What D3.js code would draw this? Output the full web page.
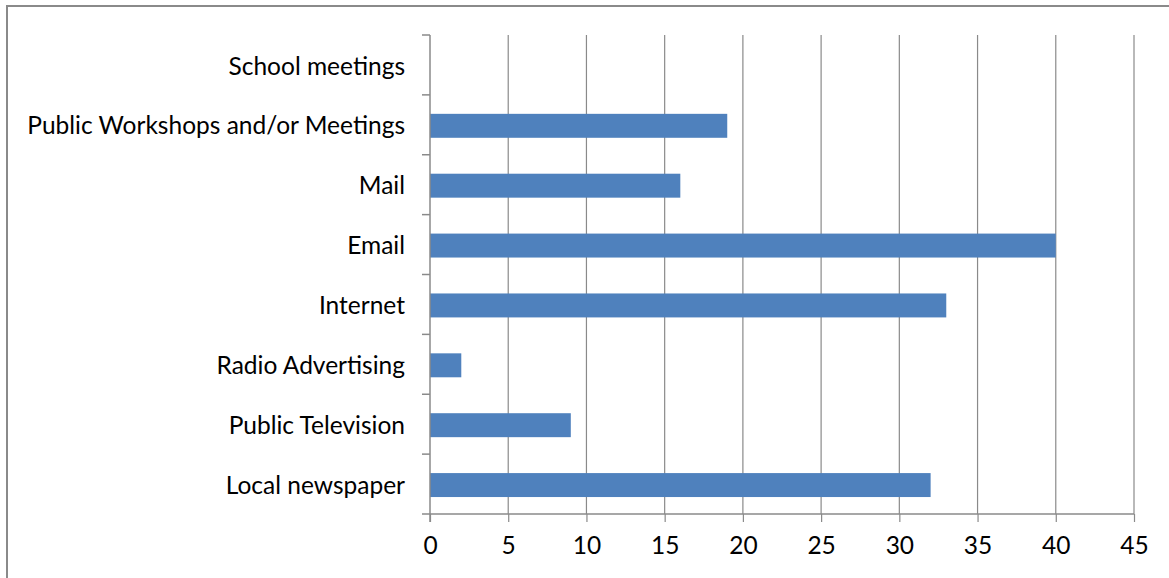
<!DOCTYPE html>
<html><head><meta charset="utf-8">
<script src="https://cdn.jsdelivr.net/npm/d3@7"></script>
<style>html,body{margin:0;padding:0;background:#fff;overflow:hidden}</style>
</head><body>
<svg id="c" width="1169" height="578"></svg>
<script>
const categories = ["School meetings","Public Workshops and/or Meetings","Mail","Email","Internet","Radio Advertising","Public Television","Local newspaper"];
const values = [0,19,16,40,33,2,9,32];
const xTicks = [0,5,10,15,20,25,30,35,40,45];

const svg = d3.select("#c");
const m = {left:430, right:1134, top:35, bottom:514};
const font = "Lato, 'Open Sans', sans-serif";
const fs = 24.5;
const grid = "#8a8a8a";

// chart frame
svg.append("rect").attr("x",7).attr("y",6).attr("width",1180).attr("height",600)
  .attr("fill","none").attr("stroke","#8a8a8a").attr("stroke-width",2);

const x = d3.scaleLinear().domain([0,45]).range([m.left,m.right]);
const y = d3.scaleBand().domain(categories).range([m.top,m.bottom]).paddingInner(0.6).paddingOuter(0.3);
const yb = d3.scaleBand().domain(categories).range([m.top,m.bottom]);

// gridlines
svg.append("g").selectAll("line").data(xTicks.slice(1)).join("line")
  .attr("x1",d=>x(d)).attr("x2",d=>x(d)).attr("y1",m.top).attr("y2",m.bottom)
  .attr("stroke",grid).attr("stroke-width",1.2);

// bars
svg.append("g").selectAll("rect").data(categories).join("rect")
  .attr("x",x(0)).attr("y",d=>y(d)+1).attr("height",y.bandwidth())
  .attr("width",(d,i)=>x(values[i])-x(0)).attr("fill","#4f81bd");

// x axis
const xa = svg.append("g").attr("transform",`translate(0,${m.bottom})`)
  .call(d3.axisBottom(x).tickValues(xTicks).tickSize(8).tickPadding(15).tickSizeOuter(0));
xa.select(".domain").attr("stroke",grid).attr("stroke-width",1.5).attr("d",`M${m.left-8},0H${m.right}`);
xa.selectAll(".tick line").attr("stroke",grid).attr("stroke-width",1.2);
xa.selectAll("text").attr("font-family",font).attr("font-size",fs).attr("fill","#000");

// y axis
const ya = svg.append("g").attr("transform",`translate(${m.left},0)`);
ya.append("line").attr("x1",0).attr("x2",0).attr("y1",m.top).attr("y2",m.bottom+8)
  .attr("stroke",grid).attr("stroke-width",1.5);
const bounds = categories.map(c=>yb(c));
ya.selectAll("line.t").data(bounds).join("line").attr("class","t")
  .attr("x1",-8).attr("x2",0).attr("y1",d=>d).attr("y2",d=>d)
  .attr("stroke",grid).attr("stroke-width",1.5);
ya.selectAll("text").data(categories).join("text")
  .attr("x",-25).attr("y",d=>yb(d)+yb.bandwidth()/2+1).attr("dy","0.35em")
  .attr("text-anchor","end").attr("font-family",font).attr("font-size",fs).attr("fill","#000")
  .text(d=>d);
</script>
</body></html>
